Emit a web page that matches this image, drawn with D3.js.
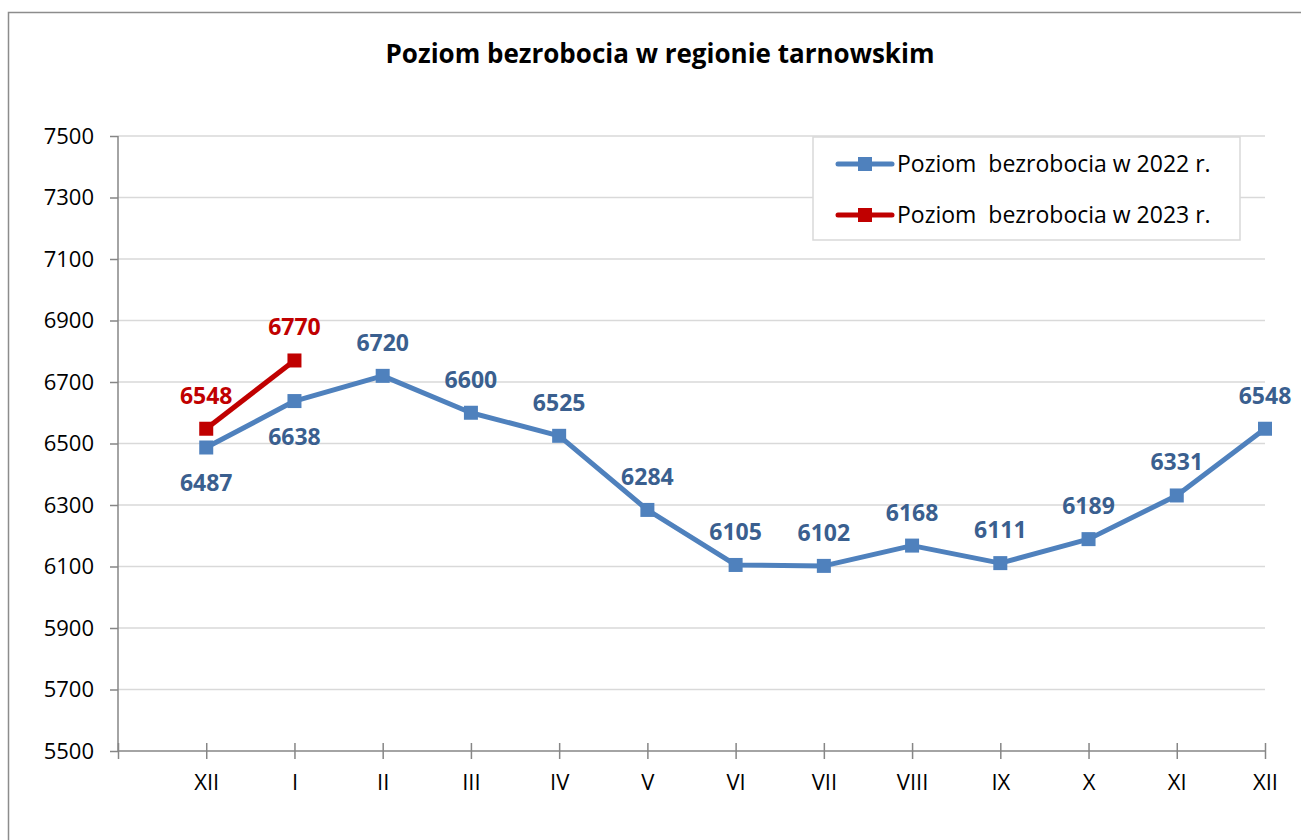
<!DOCTYPE html>
<html>
<head>
<meta charset="utf-8">
<script src="https://cdn.jsdelivr.net/npm/d3@7"></script>
<style>
  body { margin: 0; background: #fff; }
  text { font-family: "Open Sans", "Noto Sans", sans-serif; }
</style>
</head>
<body>
<svg id="chart"></svg>
<script>
// data
var months = ["XII", "I", "II", "III", "IV", "V", "VI", "VII", "VIII", "IX", "X", "XI", "XII"];
var values2022 = [6487, 6638, 6720, 6600, 6525, 6284, 6105, 6102, 6168, 6111, 6189, 6331, 6548];
var values2023 = [6548, 6770];
var yTicks = [5500, 5700, 5900, 6100, 6300, 6500, 6700, 6900, 7100, 7300, 7500];
var seriesNames = ["Poziom  bezrobocia w 2022 r.", "Poziom  bezrobocia w 2023 r."];
// labels of 2022 placed below the point
var belowIdx = [0, 1];

var W = 1301, H = 840;
var margin = {top: 136, right: 36, bottom: 89, left: 118},
    width = W - margin.left - margin.right,
    height = H - margin.top - margin.bottom;

var blue = "#4f81bd", blueText = "#3a5f8f", red = "#c00000";

var root = d3.select("#chart").attr("width", W).attr("height", H);

// chart border
root.append("rect")
  .attr("x", 8.5).attr("y", 12.5)
  .attr("width", 1310).attr("height", 840)
  .attr("fill", "none").attr("stroke", "#8c8c8c").attr("stroke-width", 1.5);

root.append("text")
  .attr("x", 660).attr("y", 63)
  .attr("text-anchor", "middle")
  .style("font-size", "26px").style("font-weight", "bold")
  .text("Poziom bezrobocia w regionie tarnowskim");

var svg = root.append("g")
  .attr("transform", "translate(" + margin.left + "," + margin.top + ")");

// positions: slot 0 is empty, categories sit on slots 1..13
var x = d3.scaleLinear().domain([0, months.length]).range([0, width]);
var y = d3.scaleLinear().domain([5500, 7500]).range([height, 0]);

// gridlines
svg.append("g").selectAll("line")
  .data(yTicks.slice(1))
  .enter().append("line")
    .attr("x1", 0).attr("x2", width)
    .attr("y1", function(d) { return y(d); })
    .attr("y2", function(d) { return y(d); })
    .attr("stroke", "#d9d9d9").attr("stroke-width", 1.5);

// y axis
var yAxis = svg.append("g")
  .call(d3.axisLeft(y).tickValues(yTicks).tickSize(8).tickPadding(16).tickFormat(d3.format("d")));
yAxis.selectAll("line, path").attr("stroke", "#868686").attr("stroke-width", 1.5);
yAxis.select(".domain").attr("d", "M0," + height + "V0");
yAxis.selectAll("text").style("font-size", "22px").attr("fill", "#000")
  .style("font-family", "'Open Sans', sans-serif");

// x axis
var xAxis = svg.append("g")
  .attr("transform", "translate(0," + height + ")")
  .call(d3.axisBottom(x).tickValues(d3.range(0, months.length + 1)).tickSize(8).tickPadding(15)
    .tickFormat(function(i) { return i === 0 ? "" : months[i - 1]; }));
xAxis.select(".domain").attr("d", "M0,0H" + width);
xAxis.selectAll(".tick line").attr("y1", -8);
xAxis.selectAll("line, path").attr("stroke", "#868686").attr("stroke-width", 1.5);
xAxis.selectAll("text").style("font-size", "22px").attr("fill", "#000")
  .style("font-family", "'Open Sans', sans-serif");

var line = d3.line()
  .x(function(d, i) { return x(i + 1); })
  .y(function(d) { return y(d); });

function drawSeries(vals, color, textColor, below) {
  svg.append("path")
    .datum(vals)
    .attr("d", line)
    .attr("fill", "none")
    .attr("stroke", color)
    .attr("stroke-width", 5)
    .attr("stroke-linejoin", "round");
  svg.append("g").selectAll("rect")
    .data(vals)
    .enter().append("rect")
      .attr("x", function(d, i) { return x(i + 1) - 7; })
      .attr("y", function(d) { return y(d) - 7; })
      .attr("width", 14).attr("height", 14)
      .attr("fill", color);
  svg.append("g").selectAll("text")
    .data(vals)
    .enter().append("text")
      .attr("x", function(d, i) { return x(i + 1); })
      .attr("y", function(d, i) { return below.indexOf(i) >= 0 ? y(d) + 44 : y(d) - 25; })
      .attr("text-anchor", "middle")
      .attr("fill", textColor)
      .style("font-size", "23px").style("font-weight", "bold")
      .text(function(d) { return d; });
}

drawSeries(values2022, blue, blueText, belowIdx);
drawSeries(values2023, red, red, []);

// legend
var legend = root.append("g").attr("transform", "translate(813,137)");
legend.append("rect")
  .attr("width", 427).attr("height", 103)
  .attr("fill", "#fff").attr("stroke", "#d9d9d9").attr("stroke-width", 1.5);
[blue, red].forEach(function(c, i) {
  var ly = 27 + i * 51;
  legend.append("line")
    .attr("x1", 25).attr("x2", 79).attr("y1", ly).attr("y2", ly)
    .attr("stroke", c).attr("stroke-width", 5).attr("stroke-linecap", "round");
  legend.append("rect")
    .attr("x", 45).attr("y", ly - 7).attr("width", 14).attr("height", 14).attr("fill", c);
  legend.append("text")
    .attr("x", 84).attr("y", ly + 8)
    .style("font-size", "23px").style("white-space", "pre")
    .attr("fill", "#000")
    .text(seriesNames[i]);
});
</script>
</body>
</html>
